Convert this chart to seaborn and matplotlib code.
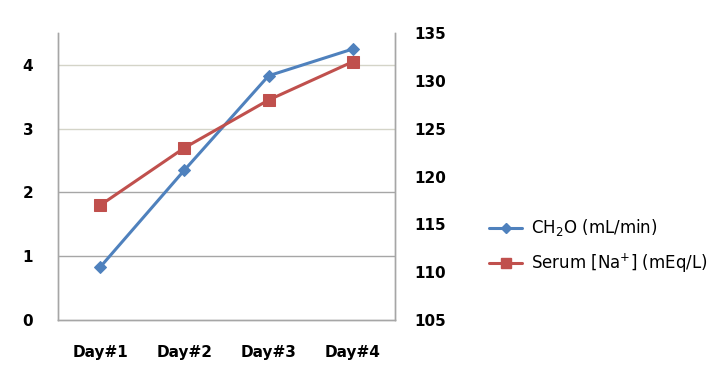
import pandas as pd
import matplotlib.pyplot as plt
import seaborn as sns

# Values
days = ["Day#1", "Day#2", "Day#3", "Day#4"]
ch2o = [0.83, 2.35, 3.83, 4.25]
serum_na = [117, 123, 128, 132]

df = pd.DataFrame({"Day": days, "CH2O": ch2o, "Na": serum_na})

sns.set_style("white")
blue = "#4F81BD"
red = "#C0504D"

fig = plt.figure(figsize=(7.27, 3.76), dpi=100)
ax = fig.add_axes([0.080, 0.149, 0.463, 0.763])
ax2 = ax.twinx()

sns.lineplot(data=df, x="Day", y="CH2O", ax=ax, color=blue, marker="D",
             markersize=6, linewidth=2.2, markeredgecolor=blue, sort=False)
sns.lineplot(data=df, x="Day", y="Na", ax=ax2, color=red, marker="s",
             markersize=8, linewidth=2.2, markeredgecolor=red, sort=False)

ax.set_xlim(-0.5, 3.5)
ax.set_ylim(0, 4.5)
ax.set_yticks([0, 1, 2, 3, 4])
ax2.set_ylim(105, 135)
ax2.set_yticks([105, 110, 115, 120, 125, 130, 135])

for y in [1, 2, 3, 4]:
    ax.axhline(y, color="#A6A6A6" if y < 3 else "#D4D4C8", linewidth=1, zorder=0)

ax.set_xlabel("")
ax.set_ylabel("")
ax2.set_ylabel("")

for a in (ax, ax2):
    a.tick_params(length=0, labelsize=11, labelcolor="black")
    for lab in a.get_xticklabels() + a.get_yticklabels():
        lab.set_fontweight("bold")
    a.spines["top"].set_visible(False)
    for s in ("left", "right", "bottom"):
        a.spines[s].set_color("#A6A6A6")
        a.spines[s].set_linewidth(1)
ax.tick_params(axis="y", pad=18)
ax.tick_params(axis="x", pad=18)
ax2.tick_params(axis="y", pad=14)

h1 = plt.Line2D([], [], color=blue, marker="D", markersize=5, linewidth=2.2)
h2 = plt.Line2D([], [], color=red, marker="s", markersize=7, linewidth=2.2)
fig.legend([h1, h2], [r"CH$_2$O (mL/min)", r"Serum [Na$^{+}$] (mEq/L)"],
           loc="center left", bbox_to_anchor=(0.652, 0.345), frameon=False,
           fontsize=12, handlelength=2.0, handletextpad=0.5, labelspacing=0.8,
           labelcolor="black")

fig.savefig("out.png", dpi=100)
